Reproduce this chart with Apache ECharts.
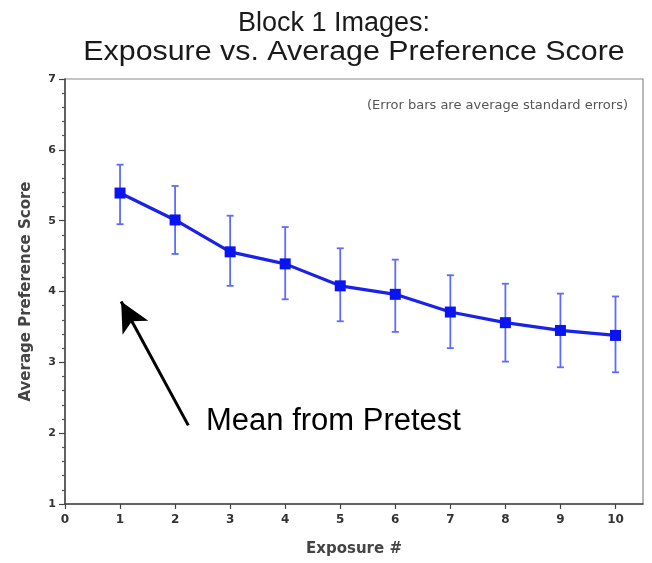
<!DOCTYPE html>
<html>
<head>
<meta charset="utf-8">
<script src="https://cdn.jsdelivr.net/npm/echarts@6/dist/echarts.min.js"></script>
<style>
  html, body { margin: 0; padding: 0; background: #fff; }
  #chart { width: 652px; height: 563px; }
</style>
</head>
<body>
<div id="chart"></div>
<script>
// Exposure number and the mean preference score after each exposure
const exposures = [1, 2, 3, 4, 5, 6, 7, 8, 9, 10];
const meanScore = [5.39, 5.01, 4.56, 4.39, 4.08, 3.96, 3.71, 3.56, 3.45, 3.38];
// Top and bottom ends of the error bars (average standard errors)
const errUpper = [5.79, 5.49, 5.07, 4.91, 4.61, 4.45, 4.23, 4.11, 3.97, 3.93];
const errLower = [4.95, 4.53, 4.08, 3.89, 3.58, 3.43, 3.20, 3.01, 2.93, 2.86];
// Axis tick values
const xTicks = [0, 1, 2, 3, 4, 5, 6, 7, 8, 9, 10];
// Annotation arrow: from the label up towards the first exposure
const arrowTail = [2.24, 2.11];
const arrowTip = [1.02, 3.86];

const lineData = exposures.map((x, i) => [x, meanScore[i]]);
const errData = exposures.map((x, i) => [x, errLower[i], errUpper[i]]);

const chart = echarts.init(document.getElementById('chart'), null, { renderer: 'canvas' });

const font = '"Liberation Sans", Arial, Helvetica, sans-serif';
const wide = '"DejaVu Sans", Verdana, sans-serif';

chart.setOption({
  animation: false,
  backgroundColor: '#ffffff',
  graphic: [
    {
      type: 'text', z: 10,
      style: { x: 334, y: 10, text: 'Block 1 Images:', textAlign: 'center',
               font: '27px ' + font, fill: '#1a1a1a' }
    },
    {
      type: 'text', z: 10,
      x: 354, y: 39, scaleX: 1.125, originX: 0, originY: 0,
      style: { x: 0, y: 0, text: 'Exposure vs. Average Preference Score', textAlign: 'center',
               font: '27px ' + font, fill: '#1a1a1a' }
    },
    {
      type: 'text', z: 10,
      style: { x: 628, y: 99, text: '(Error bars are average standard errors)', textAlign: 'right',
               font: '13px ' + wide, fill: '#555' }
    },
    {
      type: 'text', z: 10,
      style: { x: 206, y: 406, text: 'Mean from Pretest', textAlign: 'left',
               font: '31px ' + font, fill: '#000' }
    }
  ],
  grid: {
    left: 65, right: 9, top: 79, bottom: 59,
    show: true, borderColor: '#8a8a8a', borderWidth: 1.2, backgroundColor: 'transparent'
  },
  xAxis: {
    type: 'value', min: 0, max: 10.5, interval: 1,
    name: 'Exposure #', nameLocation: 'middle', nameGap: 38,
    nameTextStyle: { fontFamily: wide, fontSize: 15, fontWeight: 'bold', color: '#444' },
    axisLine: { show: true, onZero: false, lineStyle: { color: '#444', width: 1.5 } },
    axisTick: { show: true, length: 5, customValues: xTicks, lineStyle: { color: '#444', width: 1.2 } },
    axisLabel: { customValues: xTicks, margin: 10, fontFamily: wide, fontSize: 12,
                 fontWeight: 'bold', color: '#333' },
    splitLine: { show: false }
  },
  yAxis: {
    type: 'value', min: 1, max: 7, interval: 1,
    name: 'Average Preference Score', nameLocation: 'middle', nameGap: 31,
    nameTextStyle: { fontFamily: wide, fontSize: 15, fontWeight: 'bold', color: '#444' },
    axisLine: { show: true, onZero: false, lineStyle: { color: '#444', width: 1.5 } },
    axisTick: { show: true, length: 6, lineStyle: { color: '#444', width: 1.2 } },
    minorTick: { show: true, splitNumber: 5, length: 3, lineStyle: { color: '#555', width: 1.2 } },
    axisLabel: { margin: 9, fontFamily: wide, fontSize: 11, fontWeight: 'bold', color: '#333' },
    splitLine: { show: false }
  },
  series: [
    {
      // error bars with short caps
      type: 'custom',
      z: 2,
      data: errData,
      encode: { x: 0, y: [1, 2] },
      renderItem: function (params, api) {
        const x = api.value(0);
        const lo = api.coord([x, api.value(1)]);
        const hi = api.coord([x, api.value(2)]);
        const cap = 3.5;
        const style = { stroke: '#5c6cff', lineWidth: 1.8 };
        return {
          type: 'group',
          children: [
            { type: 'line', shape: { x1: hi[0], y1: hi[1], x2: lo[0], y2: lo[1] }, style },
            { type: 'line', shape: { x1: hi[0] - cap, y1: hi[1], x2: hi[0] + cap, y2: hi[1] }, style },
            { type: 'line', shape: { x1: lo[0] - cap, y1: lo[1], x2: lo[0] + cap, y2: lo[1] }, style }
          ]
        };
      }
    },
    {
      type: 'line',
      z: 3,
      data: lineData,
      symbol: 'rect',
      symbolSize: 11,
      itemStyle: { color: '#0a14f0' },
      lineStyle: { color: '#1a22e8', width: 3.2 },
      markLine: {
        silent: true,
        animation: false,
        symbol: ['none', 'arrow'],
        symbolSize: [22, 30],
        label: { show: false },
        lineStyle: { color: '#000', width: 3, type: 'solid' },
        data: [[{ coord: arrowTail }, { coord: arrowTip }]]
      }
    }
  ]
});
</script>
</body>
</html>
